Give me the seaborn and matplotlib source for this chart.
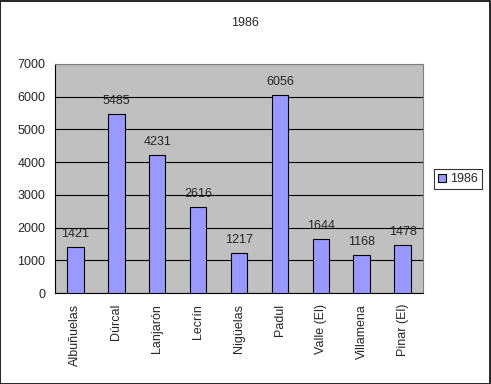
import matplotlib
matplotlib.use("Agg")
import matplotlib.pyplot as plt
import seaborn as sns
import pandas as pd
from matplotlib.patches import Rectangle

categories = ["Albuñuelas", "Dúrcal", "Lanjarón", "Lecrín", "Nigüelas",
              "Padul", "Valle (El)", "Villamena", "Pinar (El)"]
values = [1421, 5485, 4231, 2616, 1217, 6056, 1644, 1168, 1478]
series_name = "1986"
yticks = [0, 1000, 2000, 3000, 4000, 5000, 6000, 7000]

df = pd.DataFrame({"cat": categories, "val": values, "series": series_name})

sns.set_style("white")
plt.rcParams['font.family'] = ['Liberation Sans', 'DejaVu Sans']
fs = 9

fig = plt.figure(figsize=(4.91, 3.84), dpi=100)
fig.patch.set_facecolor("white")
fig.add_artist(Rectangle((0.001, 0.001), 0.997, 0.996, transform=fig.transFigure,
                         fill=False, edgecolor="black", linewidth=1.2))
ax = fig.add_axes([55/491, 1-293/384, (423-55)/491, (293-64)/384])
ax.set_facecolor("#C0C0C0")

sns.barplot(data=df, x="cat", y="val", hue="series", palette=["#9999FF"],
            saturation=1, width=0.4, edgecolor="black", linewidth=0.8, ax=ax, zorder=3)

ax.set_ylim(0, 7000)
ax.set_xlim(-0.5, len(categories) - 0.5)
ax.set_yticks(yticks)
ax.set_yticklabels([str(t) for t in yticks], fontsize=fs)
ax.yaxis.grid(True, color="black", linewidth=0.8, zorder=1)
ax.set_axisbelow(True)

ax.set_xticks(range(len(categories)))
ax.set_xticklabels(categories, rotation=90, fontsize=fs)
ax.tick_params(axis="x", length=0, pad=8)
# category boundary ticks
ax.set_xticks([i - 0.5 for i in range(len(categories) + 1)], minor=True)
ax.tick_params(axis="x", which="minor", length=4, width=0.8, color="black", direction="out")
ax.tick_params(axis="y", length=4, width=0.8, color="black", direction="out", pad=3)
ax.set_xlabel("")
ax.set_ylabel("")

for s in ["top", "right"]:
    ax.spines[s].set_color("#808080")
    ax.spines[s].set_linewidth(0.8)
for s in ["left", "bottom"]:
    ax.spines[s].set_color("black")
    ax.spines[s].set_linewidth(0.8)

for i, v in enumerate(values):
    ax.annotate(str(v), (i, v), xytext=(0, 5), textcoords="offset points",
                ha="center", va="bottom", fontsize=fs)

fig.text(0.5, 1 - 23/384, "1986", ha="center", va="center", fontsize=fs)

leg = ax.legend(loc="center left", bbox_to_anchor=(434/491, 1 - 179/384),
                bbox_transform=fig.transFigure, fontsize=fs, frameon=True,
                fancybox=False, edgecolor="black", handlelength=0.6,
                handleheight=0.6, handletextpad=0.3, borderpad=0.35,
                borderaxespad=0)
leg.get_frame().set_linewidth(0.8)

fig.savefig("out.png", dpi=100)
